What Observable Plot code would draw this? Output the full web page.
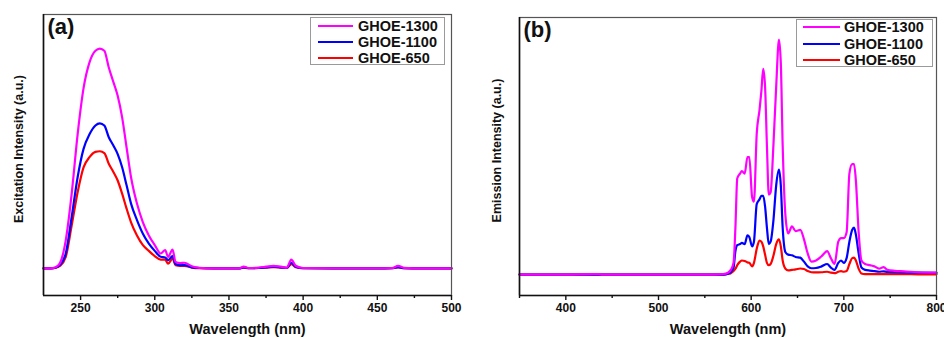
<!DOCTYPE html>
<html>
<head>
<meta charset="utf-8">
<script src="https://cdn.jsdelivr.net/npm/d3@7"></script>
<script src="https://cdn.jsdelivr.net/npm/@observablehq/plot@0.6"></script>
<style>
  html, body { margin: 0; padding: 0; background: #fff; }
  #wrap { position: relative; width: 944px; height: 338px; overflow: hidden; font-family: "Liberation Sans", Arial, sans-serif; }
  .panel { position: absolute; top: 0; }
  .legend { position: absolute; border: 1px solid #9a9a9a; background: #fff; box-sizing: border-box; }
  .row { position: absolute; left: 0; display: flex; align-items: center; height: 16px; }
  .sw { display: inline-block; height: 2.2px; }
  .lab { font-weight: bold; font-size: 14.5px; color: #111; white-space: nowrap; }
</style>
</head>
<body>
<div id="wrap"></div>
<script>
// ---- Series ----
const seriesNames = ["GHOE-1300", "GHOE-1100", "GHOE-650"];
const seriesColors = ["#ff00ff", "#0000ff", "#ff0000"];

// ---- Panel (a): excitation ----
const xTicksA = [250, 300, 350, 400, 450, 500];
const xMinorA = [275, 325, 375, 425, 475];
const wlA = [225, 230, 233, 236, 240, 244, 248, 252, 256, 260, 263, 266, 269, 272, 275, 278, 281, 284, 288, 292, 296, 300, 304, 307, 309, 312, 314, 317, 320, 325, 330, 340, 350, 357, 360, 363, 370, 375, 380, 385, 389, 392, 395, 400, 420, 450, 460, 464, 468, 480, 500];
const exc1300 = [0, 0, 0.005, 0.023, 0.128, 0.34, 0.61, 0.82, 0.937, 0.99, 1.0, 0.99, 0.914, 0.85, 0.785, 0.687, 0.55, 0.415, 0.295, 0.21, 0.15, 0.106, 0.068, 0.083, 0.053, 0.086, 0.03, 0.024, 0.026, 0.01, 0.003, 0, 0, 0.001, 0.008, 0.002, 0.004, 0.008, 0.012, 0.008, 0.004, 0.04, 0.012, 0.002, 0.001, 0.001, 0.002, 0.012, 0.003, 0, 0];
const exc1100 = [0, 0, 0.003, 0.015, 0.068, 0.234, 0.415, 0.544, 0.61, 0.65, 0.66, 0.65, 0.597, 0.56, 0.52, 0.46, 0.378, 0.295, 0.22, 0.158, 0.113, 0.08, 0.053, 0.05, 0.038, 0.056, 0.02, 0.015, 0.015, 0.005, 0.002, 0, 0, 0, 0.005, 0.001, 0.002, 0.005, 0.008, 0.005, 0.002, 0.026, 0.008, 0.001, 0, 0, 0.001, 0.006, 0.001, 0, 0];
const exc650 = [0, 0, 0.002, 0.011, 0.053, 0.196, 0.347, 0.46, 0.506, 0.53, 0.533, 0.525, 0.476, 0.44, 0.4, 0.34, 0.272, 0.21, 0.15, 0.106, 0.08, 0.056, 0.04, 0.04, 0.022, 0.045, 0.015, 0.012, 0.012, 0.004, 0.001, 0, 0, 0, 0.004, 0.001, 0.002, 0.004, 0.006, 0.004, 0.002, 0.02, 0.006, 0.001, 0, 0, 0.001, 0.005, 0.001, 0, 0];

// ---- Panel (b): emission ----
const xTicksB = [400, 500, 600, 700, 800];
const xMinorB = [350, 450, 550, 650, 750];
const wlB = [350, 400, 430, 435, 440, 500, 560, 570, 575, 578, 581, 583, 585, 588, 590, 593, 596, 598, 601, 603, 606, 609, 611, 613, 615, 617, 619, 621, 624, 627, 630, 632, 634, 637, 640, 644, 648, 653, 657, 661, 665, 670, 676, 682, 686, 690, 694, 697, 700, 703, 706, 709, 711, 713, 716, 719, 723, 728, 733, 738, 743, 747, 755, 765, 780, 800];
const emi1300 = [0, 0, 0.002, 0.002, 0, 0, 0, 0.002, 0.008, 0.02, 0.05, 0.2, 0.41, 0.43, 0.44, 0.43, 0.5, 0.5, 0.33, 0.31, 0.6, 0.7, 0.78, 0.875, 0.8, 0.55, 0.34, 0.35, 0.55, 0.8, 1.0, 0.9, 0.55, 0.25, 0.175, 0.205, 0.185, 0.19, 0.15, 0.09, 0.055, 0.06, 0.078, 0.1, 0.07, 0.045, 0.14, 0.155, 0.155, 0.18, 0.43, 0.47, 0.47, 0.4, 0.18, 0.06, 0.045, 0.04, 0.035, 0.025, 0.032, 0.02, 0.016, 0.014, 0.01, 0.008];
const emi1100 = [0, 0, 0, 0, 0, 0, 0, 0, 0.004, 0.01, 0.03, 0.1, 0.125, 0.13, 0.135, 0.13, 0.167, 0.16, 0.12, 0.14, 0.3, 0.32, 0.335, 0.335, 0.29, 0.2, 0.13, 0.14, 0.23, 0.38, 0.447, 0.38, 0.2, 0.095, 0.085, 0.082, 0.075, 0.072, 0.055, 0.035, 0.027, 0.028, 0.035, 0.045, 0.03, 0.02, 0.05, 0.06, 0.05, 0.07, 0.14, 0.19, 0.2, 0.17, 0.09, 0.03, 0.02, 0.017, 0.015, 0.012, 0.014, 0.011, 0.01, 0.009, 0.008, 0.007];
const emi650 = [0, 0, 0, 0, 0, 0, 0, 0, 0.003, 0.006, 0.015, 0.025, 0.04, 0.055, 0.06, 0.058, 0.052, 0.05, 0.035, 0.05, 0.11, 0.145, 0.14, 0.12, 0.085, 0.05, 0.04, 0.045, 0.08, 0.13, 0.15, 0.12, 0.06, 0.025, 0.018, 0.02, 0.022, 0.026, 0.024, 0.015, 0.01, 0.009, 0.01, 0.012, 0.008, 0.006, 0.012, 0.015, 0.012, 0.015, 0.045, 0.07, 0.072, 0.06, 0.025, 0.005, 0.002, 0.002, 0.002, 0.002, 0.002, 0.002, 0.002, 0.002, 0.001, 0.001];

const FONT = '"Liberation Sans", Arial, sans-serif';

function toRows(wl, vals) { return wl.map((w, i) => ({w, v: vals[i]})); }

function makePanel(opt) {
  const [x0] = opt.xDomain;
  const [y0] = opt.yDomain;
  const order = [2, 1, 0]; // draw red, blue, then magenta on top
  const lines = order.map(i => Plot.line(toRows(opt.wl, opt.series[i]), {
    x: "w", y: "v", stroke: seriesColors[i], strokeWidth: 2.2, curve: "monotone-x"
  }));
  return Plot.plot({
    width: opt.width, height: 338,
    marginLeft: opt.ml, marginRight: opt.mr, marginTop: opt.mt, marginBottom: 43,
    style: {fontFamily: FONT, fontSize: "12px", fontWeight: "bold", color: "#111", background: "transparent", overflow: "visible"},
    x: {domain: opt.xDomain},
    y: {domain: opt.yDomain, axis: null},
    marks: [
      ...lines,
      Plot.frame({stroke: "#555", strokeWidth: 1.2}),
      Plot.ruleY([y0], {stroke: "#111", strokeWidth: 1.6}),
      Plot.ruleX([x0], {stroke: "#111", strokeWidth: 1.6}),
      Plot.axisX({ticks: opt.ticks, tickSize: 5, tickPadding: 3, tickFormat: d => String(d), label: null, strokeWidth: 1.4}),
      Plot.axisX({ticks: opt.minor, tickSize: 3, text: null, label: null, strokeWidth: 1.4}),
      Plot.text([opt.tag], {frameAnchor: "top-left", dx: 4, dy: 4, text: d => d, textAnchor: "start", lineAnchor: "top", fontSize: 22, fontWeight: "bold", fill: "#111"}),
      Plot.text([opt.yLabel], {frameAnchor: "left", dx: -opt.yLabelOff, dy: -6, rotate: -90, text: d => d, textAnchor: "middle", lineAnchor: "middle", fontSize: 12.5, fontWeight: "bold", fill: "#111"}),
      Plot.text(["Wavelength (nm)"], {frameAnchor: "bottom", dy: 34, text: d => d, textAnchor: "middle", lineAnchor: "middle", fontSize: 14.5, fontWeight: "bold", fill: "#111"})
    ]
  });
}

function makeLegend(left, top, width, height, lineX, lineLen, textGap, rowYs) {
  const lg = document.createElement("div");
  lg.className = "legend";
  Object.assign(lg.style, {left: left + "px", top: top + "px", width: width + "px", height: height + "px"});
  seriesNames.forEach((name, i) => {
    const row = document.createElement("div");
    row.className = "row";
    row.style.top = (rowYs[i] - top - 1 - 8) + "px";
    row.style.left = (lineX - left - 1) + "px";
    const sw = document.createElement("span");
    sw.className = "sw";
    sw.style.width = lineLen + "px";
    sw.style.background = seriesColors[i];
    sw.style.marginRight = textGap + "px";
    const lab = document.createElement("span");
    lab.className = "lab";
    lab.textContent = name;
    row.appendChild(sw); row.appendChild(lab);
    lg.appendChild(row);
  });
  return lg;
}

const wrap = document.getElementById("wrap");

const pa = makePanel({
  width: 470, ml: 43, mr: 19, mt: 14,
  xDomain: [225, 500], yDomain: [-0.123, 1.155],
  ticks: xTicksA, minor: xMinorA, wl: wlA, series: [exc1300, exc1100, exc650],
  tag: "(a)", yLabel: "Excitation Intensity (a.u.)", yLabelOff: 25
});
const da = document.createElement("div"); da.className = "panel"; da.style.left = "0px"; da.appendChild(pa);
wrap.appendChild(da);

const pb = makePanel({
  width: 464, ml: 39, mr: 8, mt: 17,
  xDomain: [350, 800], yDomain: [-0.089, 1.094],
  ticks: xTicksB, minor: xMinorB, wl: wlB, series: [emi1300, emi1100, emi650],
  tag: "(b)", yLabel: "Emission Intensity (a.u.)", yLabelOff: 23
});
const db = document.createElement("div"); db.className = "panel"; db.style.left = "480px"; db.appendChild(pb);
wrap.appendChild(db);

wrap.appendChild(makeLegend(310, 17, 135, 48, 318, 35, 5, [26, 42, 58]));
wrap.appendChild(makeLegend(796, 19, 137, 48, 803, 37, 4, [27, 44, 60]));
</script>
</body>
</html>
